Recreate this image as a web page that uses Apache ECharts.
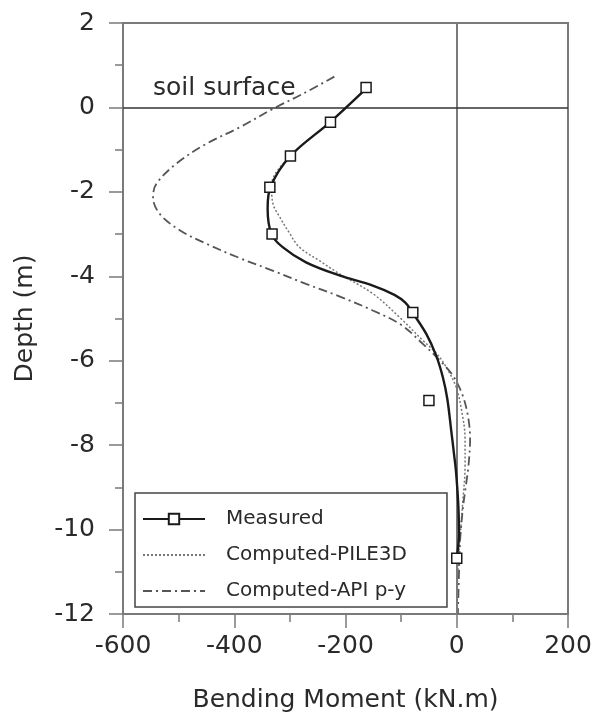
<!DOCTYPE html>
<html>
<head>
<meta charset="utf-8">
<script src="https://cdn.jsdelivr.net/npm/echarts@6/dist/echarts.min.js"></script>
<style>
html,body{margin:0;padding:0;background:#fff;}
#chart{width:597px;height:713px;}
</style>
</head>
<body>
<div id="chart"></div>
<script>
// Bending moment (kN.m) vs depth (m)
var measuredPoints = [
  [-163, 0.47], [-227, -0.35], [-299, -1.15], [-336, -1.89],
  [-332, -3.0], [-79, -4.86], [-50, -6.94], [0, -10.68]
];
var measuredCurve = [
  [-161, 0.47], [-227, -0.34], [-299, -1.15], [-335, -1.89], [-340, -2.4],
  [-333, -3.0], [-313, -3.31], [-271, -3.67], [-211, -3.98], [-151, -4.22],
  [-112, -4.44], [-92, -4.63], [-79, -4.87], [-55, -5.36], [-37, -5.88], [-25, -6.39],
  [-17, -6.9], [-10, -7.65], [-5, -8.2], [-1, -8.68], [3, -9.47],
  [4, -10.1], [0, -10.68]
];
var pile3dCurve = [
  [-161, 0.47], [-227, -0.34], [-299, -1.15], [-333, -1.85], [-330, -2.3],
  [-318, -2.6], [-302, -2.95], [-283, -3.31], [-247, -3.63], [-211, -3.94],
  [-151, -4.41], [-103, -4.97], [-61, -5.52], [-37, -5.82], [-19, -6.15],
  [-1, -6.63], [9, -7.2], [15, -7.85], [15, -8.5], [11, -9.3],
  [6, -10.2], [2, -11], [0, -12]
];
var apiCurve = [
  [-220, 0.73], [-277, 0.32], [-330, -0.03], [-390, -0.47], [-450, -0.86],
  [-504, -1.33], [-540, -1.81], [-546, -2.13], [-534, -2.52], [-498, -2.91],
  [-450, -3.23], [-390, -3.57], [-330, -3.87], [-271, -4.18], [-210, -4.48],
  [-151, -4.81], [-100, -5.15], [-61, -5.6], [-30, -6.0], [-7, -6.35],
  [10, -6.8], [20, -7.3], [24, -7.85], [21, -8.5], [16, -9.0],
  [11, -9.5], [6, -10.26], [4, -11.05], [2, -12]
];
var seriesNames = ['Measured', 'Computed-PILE3D', 'Computed-API p-y'];
var xTicks = {min: -600, max: 200, step: 200};
var yTicks = {min: -12, max: 2, step: 2};
var annotation = 'soil surface';
var xTitle = 'Bending Moment (kN.m)';
var yTitle = 'Depth (m)';

var FONT = 'DejaVu Sans';
var TXT = '#2a2a2a';
var chart = echarts.init(document.getElementById('chart'), null, {renderer: 'canvas'});

function axisCommon() {
  return {
    axisLine: {show: true, onZero: false, lineStyle: {color: '#7a7a7a', width: 2}},
    axisTick: {show: true, inside: false, length: 14, lineStyle: {color: '#7a7a7a', width: 1.5}},
    minorTick: {show: true, splitNumber: 2, length: 8, lineStyle: {color: '#7a7a7a', width: 1.5}},
    splitLine: {show: false},
    minorSplitLine: {show: false}
  };
}

var option = {
  animation: false,
  backgroundColor: '#fff',
  grid: {left: 123, right: 29, top: 23, bottom: 99, show: true, borderColor: '#7a7a7a', borderWidth: 2,
         containLabel: false, outerBoundsMode: 'none'},
  xAxis: Object.assign(axisCommon(), {
    type: 'value', min: xTicks.min, max: xTicks.max, interval: xTicks.step,
    name: xTitle, nameLocation: 'middle', nameGap: 74,
    nameTextStyle: {fontFamily: FONT, fontSize: 25, color: TXT},
    axisLabel: {fontFamily: FONT, fontSize: 25, color: TXT, margin: 20}
  }),
  yAxis: Object.assign(axisCommon(), {
    type: 'value', min: yTicks.min, max: yTicks.max, interval: yTicks.step,
    name: yTitle, nameLocation: 'middle', nameGap: 85,
    nameTextStyle: {fontFamily: FONT, fontSize: 25, color: TXT},
    axisLabel: {fontFamily: FONT, fontSize: 25, color: TXT, margin: 28}
  }),
  legend: {
    data: seriesNames,
    orient: 'vertical',
    left: 135, top: 493,
    padding: [16, 40, 6, 7],
    itemGap: 16,
    itemWidth: 62, itemHeight: 13,
    borderColor: '#444', borderWidth: 1.5,
    backgroundColor: '#fff',
    selectedMode: false,
    textStyle: {fontFamily: FONT, fontSize: 20, color: TXT, lineHeight: 20, padding: [0, 0, 0, 16]}
  },
  graphic: [{
    type: 'text', left: 153, top: 76,
    style: {text: annotation, fontFamily: FONT, fontSize: 25, fill: TXT}
  }],
  series: [
    {
      name: seriesNames[0], type: 'line', data: measuredCurve,
      smooth: 0.35, symbol: 'emptyRect', symbolSize: 9, showSymbol: false,
      lineStyle: {color: '#1a1a1a', width: 2.4},
      itemStyle: {color: '#1a1a1a', borderWidth: 1.5},
      emphasis: {disabled: true}, z: 5
    },
    {
      name: seriesNames[1], type: 'line', data: pile3dCurve,
      smooth: 0.35, symbol: 'none',
      lineStyle: {color: '#777', width: 1.5, type: [2, 2]},
      itemStyle: {color: 'rgba(0,0,0,0)', borderWidth: 0},
      emphasis: {disabled: true}, z: 4
    },
    {
      name: seriesNames[2], type: 'line', data: apiCurve,
      smooth: 0.35, symbol: 'none',
      lineStyle: {color: '#555', width: 1.8, type: [9, 4, 2, 4]},
      itemStyle: {color: 'rgba(0,0,0,0)', borderWidth: 0},
      emphasis: {disabled: true}, z: 4,
      markLine: {
        silent: true, symbol: 'none', label: {show: false},
        data: [
          {xAxis: 0, lineStyle: {color: '#7a7a7a', width: 2, type: 'solid'}},
          {yAxis: 0, lineStyle: {color: '#333', width: 1.5, type: 'solid'}}
        ]
      }
    },
    {
      name: 'Measured points', type: 'scatter', data: measuredPoints,
      symbol: 'rect', symbolSize: 10,
      itemStyle: {color: '#ffffff', borderColor: '#1a1a1a', borderWidth: 1.5, opacity: 1},
      emphasis: {disabled: true}, z: 6
    }
  ]
};
chart.setOption(option);
</script>
</body>
</html>
